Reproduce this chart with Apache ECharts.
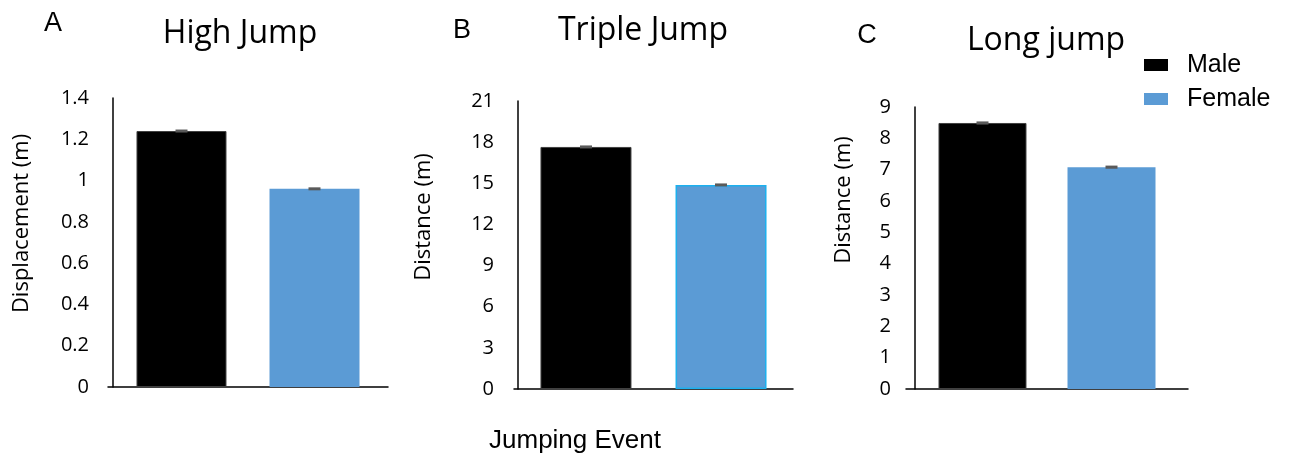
<!DOCTYPE html>
<html><head><meta charset="utf-8">
<script src="https://cdn.jsdelivr.net/npm/echarts@6/dist/echarts.min.js"></script>
<style>html,body{margin:0;padding:0;background:#fff}#c{width:1292px;height:457px}</style>
</head><body><div id="c"></div>
<script>
// ---- data ----
const panelTitles = ['High Jump', 'Triple Jump', 'Long jump'];
const panelLetters = ['A', 'B', 'C'];
const seriesNames = ['Male', 'Female'];
const maleValues = [1.24, 17.65, 8.49];
const femaleValues = [0.96, 14.88, 7.08];
const maleErrors = [0.006, 0.1, 0.05];
const femaleErrors = [0.006, 0.1, 0.05];
const yTicksA = [0, 0.2, 0.4, 0.6, 0.8, 1, 1.2, 1.4];
const yTicksB = [0, 3, 6, 9, 12, 15, 18, 21];
const yTicksC = [0, 1, 2, 3, 4, 5, 6, 7, 8, 9];
const yNames = ['Displacement (m)', 'Distance (m)', 'Distance (m)'];
const xName = 'Jumping Event';

// ---- layout / style ----
const FONT = '"Open Sans", sans-serif';
const ARIAL = '"Liberation Sans", Arial, sans-serif';
const tickSets = [yTicksA, yTicksB, yTicksC];
const grids = [
  {left: 108, top: 98, width: 280, height: 289},
  {left: 514, top: 101, width: 279, height: 288},
  {left: 906, top: 107, width: 282, height: 282}
];
const yOffsets = [-5, -4, -9];
const barW = [90, 91, 88];
const barGapPx = [43, 44, 41];
const nameGaps = [80, 83, 60];
const namePad = [38, 56, 96];
const titlePos = [[240, 18], [643, 15], [1046, 25]];
const letterPos = [[53, 10], [462, 17], [867, 22]];
const MALE = '#000000', FEMALE = '#5b9bd5';

const chart = echarts.init(document.getElementById('c'), null, {renderer: 'canvas'});

const title = [];
const xAxis = [], yAxis = [], series = [];
for (let p = 0; p < 3; p++) {
  title.push({text: panelTitles[p], left: titlePos[p][0], top: titlePos[p][1], textAlign: 'center', padding: 0,
    textStyle: {fontFamily: FONT, fontSize: 32, fontWeight: 'normal', color: '#000'}});
  title.push({text: panelLetters[p], left: letterPos[p][0], top: letterPos[p][1], textAlign: 'center', padding: 0,
    textStyle: {fontFamily: ARIAL, fontSize: 27, fontWeight: 'normal', color: '#000'}});
  const t = tickSets[p];
  xAxis.push({type: 'category', gridIndex: p, data: [''],
    axisLine: {lineStyle: {color: '#000', width: 1.5}}, axisTick: {show: false}, axisLabel: {show: false}});
  yAxis.push({type: 'value', gridIndex: p, min: t[0], max: t[t.length - 1], interval: t[1] - t[0],
    offset: yOffsets[p],
    splitLine: {show: false}, axisTick: {show: false},
    axisLine: {show: true, lineStyle: {color: '#000', width: 1.5}},
    axisLabel: {fontFamily: FONT, fontSize: 20, color: '#000', margin: 24,
      formatter: v => { const m = t.find(x => Math.abs(x - v) < 1e-9); return m === undefined ? '' : String(m); }},
    name: yNames[p], nameLocation: 'middle', nameRotate: 90, nameGap: nameGaps[p],
    nameTextStyle: {fontFamily: FONT, fontSize: 22, color: '#000', padding: [0, 0, 0, namePad[p]]}});
  const vals = [maleValues[p], femaleValues[p]];
  const errs = [maleErrors[p], femaleErrors[p]];
  for (let s = 0; s < 2; s++) {
    series.push({type: 'bar', name: seriesNames[s], xAxisIndex: p, yAxisIndex: p,
      barWidth: barW[p], barGap: (barGapPx[p] / barW[p] * 100).toFixed(1) + '%',
      data: [vals[s]],
      itemStyle: s === 0 ? {color: MALE, borderColor: '#404040', borderWidth: 1}
        : (p === 1 ? {color: FEMALE, borderColor: '#1cb0ee', borderWidth: 1.5} : {color: FEMALE}),
      emphasis: {disabled: true}});
  }
  for (let s = 0; s < 2; s++) {
    const off = (s === 0 ? -1 : 1) * (barW[p] + barGapPx[p]) / 2;
    series.push({type: 'custom', name: 'err' + p + s, xAxisIndex: p, yAxisIndex: p, z: 5,
      data: [[0, vals[s], errs[s]]], encode: {x: 0, y: 1},
      renderItem: (params, api) => {
        const v = api.value(1), e = api.value(2);
        const c = api.coord([0, v]);
        const hi = api.coord([0, v + e])[1], lo = api.coord([0, v - e])[1];
        const h = Math.max(3, lo - hi);
        return {type: 'rect', shape: {x: c[0] + off - 6, y: (hi + lo) / 2 - h / 2, width: 12, height: h},
          style: {fill: '#5a5a5a'}};
      }});
  }
}
title.push({text: xName, left: 575, top: 428, textAlign: 'center', padding: 0,
  textStyle: {fontFamily: ARIAL, fontSize: 26, fontWeight: 'normal', color: '#000'}});

chart.setOption({
  animation: false,
  backgroundColor: '#fff',
  title,
  legend: {data: seriesNames, orient: 'vertical', left: 1139, top: 43, itemWidth: 24, itemHeight: 12, itemGap: 0,
    icon: 'rect', selectedMode: false, itemStyle: {borderWidth: 0},
    textStyle: {fontFamily: ARIAL, fontSize: 25, color: '#000', lineHeight: 28, padding: [0, 0, 6, 14]}},
  grid: grids,
  xAxis, yAxis, series
});
</script></body></html>
